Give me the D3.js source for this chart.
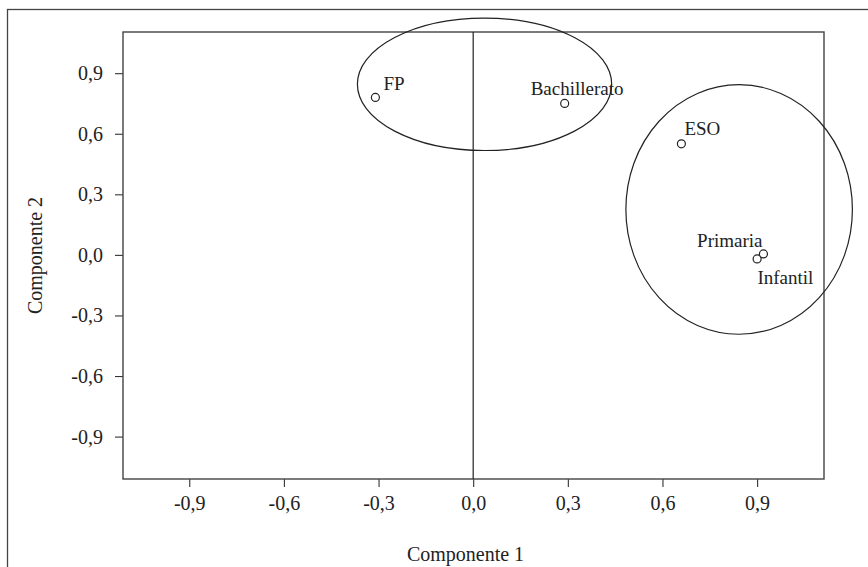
<!DOCTYPE html>
<html lang="es">
<head>
  <meta charset="UTF-8" />
  <title>Componentes</title>
  <script src="https://d3js.org/d3.v7.min.js"></script>
  <style>
    body {
      margin: 0;
      background: #fff;
    }
    svg text {
      font-family: "Liberation Serif", "Times New Roman", serif;
      fill: #222;
    }
  </style>
</head>
<body>

<svg id="chart" width="868" height="567"></svg>

<script>
/* ---------------- DATA ---------------- */

const levels = ["FP", "Bachillerato", "ESO", "Primaria", "Infantil"];
const comp1 = [-0.31, 0.29, 0.66, 0.90, 0.92];
const comp2 = [0.78, 0.75, 0.55, -0.02, 0.005];

const tickValues = [-0.9, -0.6, -0.3, 0, 0.3, 0.6, 0.9];

// groups circled on the map: centre (c1, c2) and radii in component units
const groupNames = ["FP + Bachillerato", "ESO + Primaria + Infantil"];
const groupC1 = [0.036, 0.843];
const groupC2 = [0.845, 0.225];
const groupR1 = [0.403, 0.359];
const groupR2 = [0.328, 0.618];

/* ---------------- SVG SETUP ---------------- */

const svg = d3.select("#chart");
const plot = { left: 123, top: 32, right: 824, bottom: 479 };

const x = d3.scaleLinear().domain([-1.11, 1.112]).range([plot.left, plot.right]);
const y = d3.scaleLinear().domain([-1.11, 1.104]).range([plot.bottom, plot.top]);

const fmt = d => d3.format(".1f")(d).replace(".", ",").replace("−", "-");

// outer frame (runs off the right and bottom of the picture)
svg.append("rect")
  .attr("x", 7.5).attr("y", 9.5)
  .attr("width", 900).attr("height", 600)
  .attr("fill", "none")
  .attr("stroke", "#444")
  .attr("stroke-width", 1.3);

/* ---------------- AXES ---------------- */

const xAxis = svg.append("g")
  .attr("transform", `translate(0,${plot.bottom})`)
  .call(d3.axisBottom(x).tickValues(tickValues).tickSize(8).tickPadding(9).tickFormat(fmt));

const yAxis = svg.append("g")
  .attr("transform", `translate(${plot.left},0)`)
  .call(d3.axisLeft(y).tickValues(tickValues).tickSize(8).tickPadding(12).tickFormat(fmt));

[xAxis, yAxis].forEach(a => {
  a.select(".domain").remove();
  a.selectAll(".tick line").attr("stroke", "#333").attr("stroke-width", 1.1);
  a.selectAll(".tick text")
    .attr("font-size", 20)
    .attr("font-family", "Liberation Serif, serif")
    .attr("fill", "#333");
});

svg.append("rect")
  .attr("x", plot.left).attr("y", plot.top)
  .attr("width", plot.right - plot.left)
  .attr("height", plot.bottom - plot.top)
  .attr("fill", "none")
  .attr("stroke", "#444")
  .attr("stroke-width", 1.4);

// vertical reference line at component 1 = 0
svg.append("line")
  .attr("x1", x(0)).attr("x2", x(0))
  .attr("y1", plot.top).attr("y2", plot.bottom)
  .attr("stroke", "#222")
  .attr("stroke-width", 1.2);

svg.append("text")
  .attr("x", (plot.left + plot.right) / 2 - 8)
  .attr("y", 561)
  .attr("text-anchor", "middle")
  .attr("font-size", 20)
  .text("Componente 1");

svg.append("text")
  .attr("transform", `translate(42,${(plot.top + plot.bottom) / 2}) rotate(-90)`)
  .attr("text-anchor", "middle")
  .attr("font-size", 20)
  .text("Componente 2");

/* ---------------- GROUP ELLIPSES ---------------- */

svg.selectAll(".group")
  .data(groupNames)
  .enter()
  .append("ellipse")
  .attr("class", "group")
  .attr("cx", (d, i) => x(groupC1[i]))
  .attr("cy", (d, i) => y(groupC2[i]))
  .attr("rx", (d, i) => x(groupR1[i]) - x(0))
  .attr("ry", (d, i) => y(0) - y(groupR2[i]))
  .attr("fill", "none")
  .attr("stroke", "#222")
  .attr("stroke-width", 1.2);

/* ---------------- POINTS ---------------- */

svg.selectAll(".point")
  .data(levels)
  .enter()
  .append("circle")
  .attr("class", "point")
  .attr("cx", (d, i) => x(comp1[i]))
  .attr("cy", (d, i) => y(comp2[i]))
  .attr("r", 4)
  .attr("fill", "#fff")
  .attr("stroke", "#222")
  .attr("stroke-width", 1.2);

// label placement relative to each marker
const labelShift = {
  "FP": [8, -7],
  "Bachillerato": [-34, -8],
  "ESO": [3, -9],
  "Primaria": [-60, -12],
  "Infantil": [-6, 30]
};

svg.selectAll(".label")
  .data(levels)
  .enter()
  .append("text")
  .attr("class", "label")
  .attr("x", (d, i) => x(comp1[i]) + labelShift[d][0])
  .attr("y", (d, i) => y(comp2[i]) + labelShift[d][1])
  .attr("font-size", 19)
  .text(d => d);
</script>

</body>
</html>
